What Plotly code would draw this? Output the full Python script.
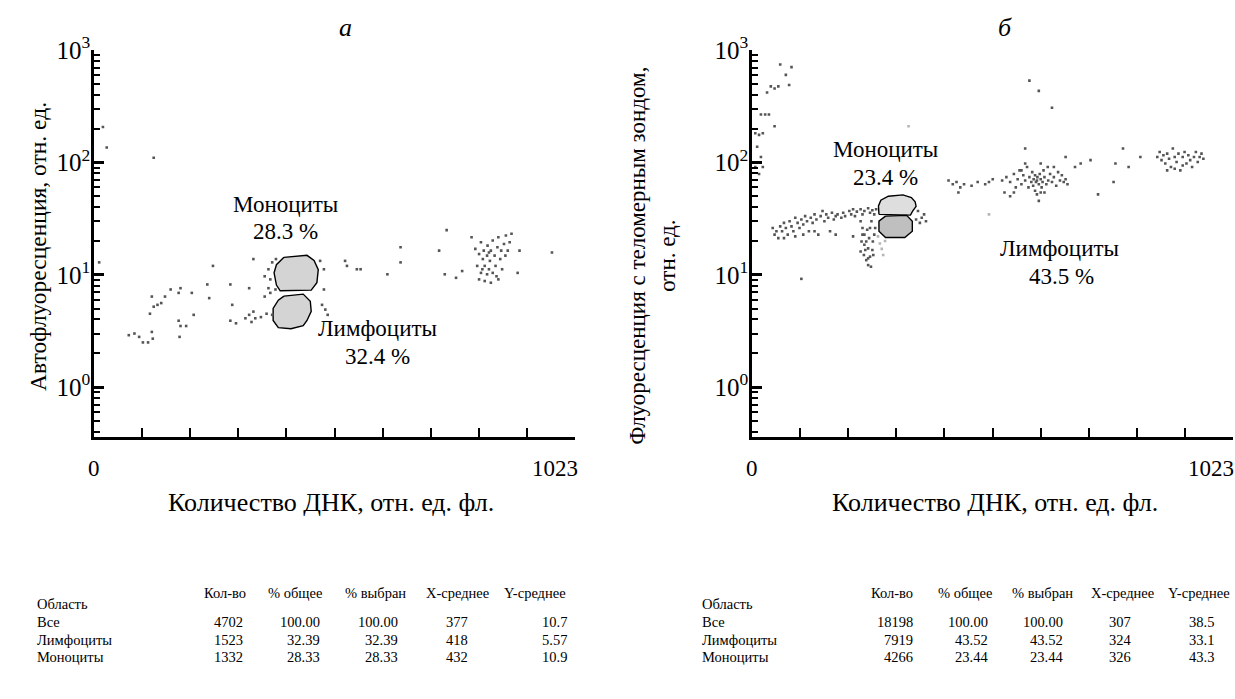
import math
import plotly.graph_objects as go

W, H = 1235, 699
FONT = "Times New Roman"

# ---------------- data: panel а ----------------
A_X = [19, 27, 127, 11,
       74, 86, 96, 104, 115, 125, 123, 119, 127, 135, 143, 123, 151, 163, 180, 184, 208,
       180, 184, 196, 182, 212, 241, 245, 253, 290, 294, 290, 302, 322, 330, 335, 343, 339,
       355, 330, 339, 363, 371, 375, 363, 371, 375, 367, 379, 379, 386, 387,
       481, 489, 489, 492, 497, 485, 534, 538, 559, 567, 624, 652, 652, 734, 750, 746, 770,
       783, 803, 974, 901, 905,
       811, 819, 823, 827, 829, 831, 836, 837, 840, 842, 844, 848, 852, 854, 856, 858, 860,
       864, 866, 868, 872, 875, 876, 880, 884, 888, 823, 831, 844, 819, 815, 860, 848, 836,
       826, 840]
A_Y = [207, 136, 110, 12.9,
       2.9, 3.0, 2.8, 2.5, 2.5, 2.7, 3.1, 4.5, 5.2, 5.4, 5.6, 6.4, 6.4, 7.4, 6.9, 7.6, 6.9,
       3.9, 3.5, 3.5, 2.8, 4.4, 8.2, 6.2, 12.0, 8.2, 5.4, 3.9, 3.7, 4.1, 4.4, 3.8, 4.1, 4.7,
       4.2, 7.6, 13.8, 6.4, 11.2, 9.1, 9.7, 7.6, 6.9, 4.5, 4.4, 12.9, 7.4, 13.8,
       13.3, 11.2, 7.4, 4.9, 4.4, 5.4, 13.3, 12.0, 11.2, 11.2, 10.1, 17.6, 12.9, 16.4, 25.0, 10.1, 9.4,
       10.8, 21.6, 15.8, 10.4, 16.4,
       17.0, 15.3, 19.5, 13.8, 16.4, 12.0, 14.8, 18.2, 11.2, 13.3, 16.4, 20.2, 14.8, 12.0, 9.7, 17.6, 21.6,
       13.8, 16.4, 11.2, 18.8, 14.8, 22.4, 16.4, 19.5, 23.2, 10.4, 8.8, 8.5, 9.1, 12.0, 9.1, 10.4, 10.1,
       11.2, 15.8]

A_MONO_GX = [404, 453, 468, 477, 474, 462, 396, 388, 383, 388, 404]
A_MONO_GY = [14.3, 14.9, 13.4, 11.1, 8.5, 7.3, 7.2, 8.1, 10.4, 12.3, 14.3]
A_LYMPH_GX = [404, 445, 460, 462, 453, 445, 419, 392, 381, 381, 392, 404]
A_LYMPH_GY = [6.46, 6.73, 5.82, 4.72, 3.92, 3.53, 3.31, 3.38, 3.92, 5.02, 5.94, 6.46]

# ---------------- data: panel б ----------------
B_X = [60, 84, 72, 79, 56, 48, 40, 32, 19, 28, 36, 48, 7, 15, 23, 11, 19, 15, 7, 23,
       590, 610, 638,
       44, 48, 52, 56, 60, 64, 68, 72, 76, 80, 84, 88, 92, 97, 101, 105, 109, 113, 117, 121,
       125, 129, 133, 137, 141, 146, 150, 154, 158, 162, 166, 170, 174, 178, 182, 190, 194,
       198, 207, 211, 215, 219, 223, 231, 235, 239, 247, 251, 256, 260, 264, 68, 92, 109,
       133, 178, 215,
       231, 235, 239, 243, 247, 231, 238, 243, 247, 251, 256, 257, 260, 251, 254, 239, 233,
       249, 262, 247, 253, 241, 258, 235, 245,
       353, 361, 366, 370, 357, 349, 105,
       418, 427, 435, 443, 451, 467, 480, 496, 504, 512, 439, 532,
       541, 549, 557, 561, 565, 569, 573, 577, 581, 585, 588, 590, 594, 596, 598, 599, 602,
       604, 606, 607, 610, 612, 614, 616, 618, 620, 622, 626, 629, 630, 634, 638, 642, 647,
       651, 655, 659, 663, 667, 671, 606, 610, 602, 614, 537, 549, 557, 622, 573, 581, 614,
       642, 687, 581, 667, 699, 720, 736, 773, 769, 789, 826, 801,
       862, 867, 871, 875, 879, 883, 887, 891, 895, 899, 903, 907, 911, 916, 920, 924, 928,
       932, 936, 940, 944, 948, 952, 956, 960, 883, 899, 916]
B_Y = [746, 706, 602, 489, 476, 456, 476, 420, 267, 267, 267, 210, 182, 176, 182, 138, 112, 79, 91, 91,
       535, 434, 307,
       26.1, 22.8, 24.4, 21.2, 27.0, 24.4, 29.0, 26.1, 22.8, 30.0, 27.0, 24.4, 32.2, 29.0, 26.1,
       31.1, 28.0, 33.3, 30.0, 24.4, 32.2, 29.0, 34.5, 31.1, 22.8, 33.3, 37.0, 30.0, 34.5, 32.2,
       24.4, 35.7, 31.1, 33.3, 34.5, 32.2, 35.7, 33.3, 37.0, 34.5, 38.3, 33.3, 36.5, 38.3, 34.5,
       37.0, 39.1, 35.7, 37.5, 34.5, 38.3, 21.2, 22.0, 22.8, 24.4, 22.8, 22.0,
       30.0, 26.1, 22.8, 19.8, 17.2, 16.1, 15.0, 13.5, 12.2, 14.5, 16.6, 19.8, 22.8, 26.1, 30.0,
       18.5, 19.8, 21.2, 26.1, 14.0, 11.8, 16.6, 15.0, 22.8, 25.2,
       37.0, 32.2, 34.5, 30.0, 29.0, 31.1, 9.2,
       69, 64, 67, 60, 64, 62, 67, 64, 67, 71, 54, 69,
       74, 67, 79, 60, 71, 85, 64, 77, 69, 91, 60, 74, 67, 82, 62, 71, 77,
       67, 69, 74, 64, 79, 71, 60, 67, 85, 74, 64, 91, 69, 79, 67, 74, 62,
       82, 69, 77, 67, 71, 64, 52, 45.5, 56, 54, 54, 50, 54, 54, 85, 98, 98,
       91, 91, 133, 112, 98, 105, 52, 98, 67, 133, 112, 91,
       112, 124, 105, 116, 98, 120, 108, 91, 133, 112, 101, 120, 85, 112, 124, 98, 116,
       105, 91, 112, 124, 101, 112, 120, 108, 85, 88, 94]

B_LIGHT_X = [333, 268, 272, 276, 504, 283, 279]
B_LIGHT_Y = [210, 22, 19, 17, 34.5, 20, 15]

B_LYMPH_GX = [284, 329, 341, 341, 325, 284, 270, 270, 284]
B_LYMPH_GY = [33.3, 33.8, 30.0, 24.4, 21.5, 21.5, 24.4, 30.0, 33.3]
B_MONO_GX = [270, 269, 274, 290, 321, 339, 347, 349, 342, 337, 270]
B_MONO_GY = [34.5, 41.0, 46.1, 50.1, 51.5, 48.7, 44.6, 40.7, 37.0, 34.0, 34.5]

# ---------------- text ----------------
PANEL_TITLES = ["а", "б"]
Y_TITLES = ["Автофлуоресценция, отн. ед.",
            "Флуоресценция с теломерным зондом,<br>отн. ед."]
X_TITLE = "Количество ДНК, отн. ед. фл."
# (text, x, y) one entry per text line
A_LABELS = [("Моноциты", 407, 42), ("28.3 %", 407, 24.5),
            ("Лимфоциты", 604, 3.3), ("32.4 %", 604, 1.88)]
B_LABELS = [("Моноциты", 283, 130), ("23.4 %", 283, 73),
            ("Лимфоциты", 655, 17), ("43.5 %", 658, 9.6)]

TABLE_HEAD = ["Кол-во", "% общее", "% выбран", "X-среднее", "Y-среднее"]
TABLE_ROWS = ["Все", "Лимфоциты", "Моноциты"]
A_TABLE = [["4702", "100.00", "100.00", "377", "10.7"],
           ["1523", "32.39", "32.39", "418", "5.57"],
           ["1332", "28.33", "28.33", "432", "10.9"]]
B_TABLE = [["18198", "100.00", "100.00", "307", "38.5"],
           ["7919", "43.52", "43.52", "324", "33.1"],
           ["4266", "23.44", "23.44", "326", "43.3"]]

# ---------------- layout geometry (pixels) ----------------
ORIGINS = [94, 752]
PLOT_W = 481
Y_TOP, Y_BOT = 33, 430
Y_RANGE = [-0.4435, 3]


def px(x):
    return x / W


def py(y):
    return 1 - y / H


fig = go.Figure()

X_MINOR = [1023 * i / 10 for i in range(1, 10)]
Y_MINOR = [m * 10 ** e for e in range(-1, 3) for m in range(2, 10)]


def add_gate(gx, gy, fillcolor, xa, ya):
    fig.add_trace(go.Scatter(x=gx, y=gy, mode="lines", fill="toself", fillcolor=fillcolor,
                             line=dict(color="black", width=1.4), hoverinfo="skip",
                             showlegend=False, xaxis=xa, yaxis=ya))


add_gate(A_MONO_GX, A_MONO_GY, "#d4d4d4", "x", "y")
add_gate(A_LYMPH_GX, A_LYMPH_GY, "#d4d4d4", "x", "y")
fig.add_trace(go.Scatter(x=A_X, y=A_Y, mode="markers",
                         marker=dict(size=2.6, color="#555555", symbol="square"),
                         showlegend=False, xaxis="x", yaxis="y"))

add_gate(B_MONO_GX, B_MONO_GY, "#dedede", "x2", "y2")
add_gate(B_LYMPH_GX, B_LYMPH_GY, "#bfbfbf", "x2", "y2")
fig.add_trace(go.Scatter(x=B_X, y=B_Y, mode="markers",
                         marker=dict(size=2.6, color="#555555", symbol="square"),
                         showlegend=False, xaxis="x2", yaxis="y2"))
fig.add_trace(go.Scatter(x=B_LIGHT_X, y=B_LIGHT_Y, mode="markers",
                         marker=dict(size=2.6, color="#b5b5b5", symbol="square"),
                         showlegend=False, xaxis="x2", yaxis="y2"))


def xaxis_cfg(ox, anchor):
    return dict(domain=[px(ox), min(1.0, px(ox + PLOT_W))], range=[0, 1023], anchor=anchor,
                showline=True, linecolor="black", linewidth=2.5, showgrid=False,
                zeroline=False, tickmode="array", tickvals=X_MINOR, ticktext=[""] * 9,
                ticks="inside", ticklen=9, tickwidth=2, tickcolor="black",
                showticklabels=False, fixedrange=True)


def yaxis_cfg(anchor):
    return dict(domain=[py(Y_BOT), py(Y_TOP)], type="log", range=Y_RANGE, anchor=anchor,
                showline=True, linecolor="black", linewidth=2.5, showgrid=False,
                zeroline=False, tickmode="array", tickvals=[1, 10, 100, 1000],
                ticktext=["10<sup>0</sup>", "10<sup>1</sup>", "10<sup>2</sup>", "10<sup>3</sup>"],
                ticks="inside", ticklen=10, tickwidth=2.5, tickcolor="black",
                tickfont=dict(family=FONT, size=25, color="black"), ticklabelstandoff=-4,
                minor=dict(tickmode="array", tickvals=Y_MINOR, ticks="inside", ticklen=6,
                           tickwidth=1.6, tickcolor="black", showgrid=False),
                fixedrange=True)


fig.update_layout(
    width=W, height=H, margin=dict(l=0, r=0, t=0, b=0),
    paper_bgcolor="white", plot_bgcolor="white", showlegend=False,
    xaxis=xaxis_cfg(ORIGINS[0], "y"), yaxis=yaxis_cfg("x"),
    xaxis2=xaxis_cfg(ORIGINS[1], "y2"), yaxis2=yaxis_cfg("x2"),
    font=dict(color="black"),
)

ann = []


def note(x, y, text, size, xanchor="center", yanchor="middle", xref="paper",
         yref="paper", angle=0, xshift=0):
    ann.append(dict(x=x, y=y, xref=xref, yref=yref, text=text, showarrow=False,
                    xanchor=xanchor, yanchor=yanchor, textangle=angle, xshift=xshift,
                    font=dict(size=size, family=FONT, color="black")))


TITLE_X = [345, 1005]
XT_X = [331, 995]
SHIFT_1023 = [5, 3]
TABLE_X0 = [35, 700]
HEAD_CX = [[225, 295, 375, 457, 535], [892, 965, 1042, 1122, 1199]]
VAL_POS = [[(245, "right"), (322, "right"), (400, "right"), (457, "center"), (569, "right")],
           [(915, "right"), (990, "right"), (1065, "right"), (1120, "center"), (1216, "right")]]
ROW_Y = [620, 638, 656]

for i, ox in enumerate(ORIGINS):
    xr, yr = ("x", "y") if i == 0 else ("x2", "y2")
    note(px(TITLE_X[i]), py(10), "<i>%s</i>" % PANEL_TITLES[i], 26)
    note(0, py(462), "0", 23, xref=xr)
    note(1023, py(462), "1023", 23, xanchor="right", xref=xr, xshift=SHIFT_1023[i])
    note(px(XT_X[i]), py(497), X_TITLE, 26)
    # table
    note(px(TABLE_X0[i]), py(601), "Область", 14.5, xanchor="left")
    for hx, htxt in zip(HEAD_CX[i], TABLE_HEAD):
        note(px(hx), py(590), htxt, 14.5)
    table = A_TABLE if i == 0 else B_TABLE
    for r, (rname, vals) in enumerate(zip(TABLE_ROWS, table)):
        note(px(TABLE_X0[i]), py(ROW_Y[r]), rname, 14.5, xanchor="left")
        for (vx, anc), v in zip(VAL_POS[i], vals):
            note(px(vx), py(ROW_Y[r]), v, 14.5, xanchor=anc)
    labels = A_LABELS if i == 0 else B_LABELS
    for txt, lx, ly in labels:
        note(lx, math.log10(ly), txt, 23, xref=xr, yref=yr)

note(px(38), py(235), Y_TITLES[0], 23.5, angle=-90)
note(px(653), py(244), Y_TITLES[1], 23, angle=-90)

fig.update_layout(annotations=ann)
fig.write_html("out.html", config={"displayModeBar": False},
               post_script="document.body.style.margin='0px';")
